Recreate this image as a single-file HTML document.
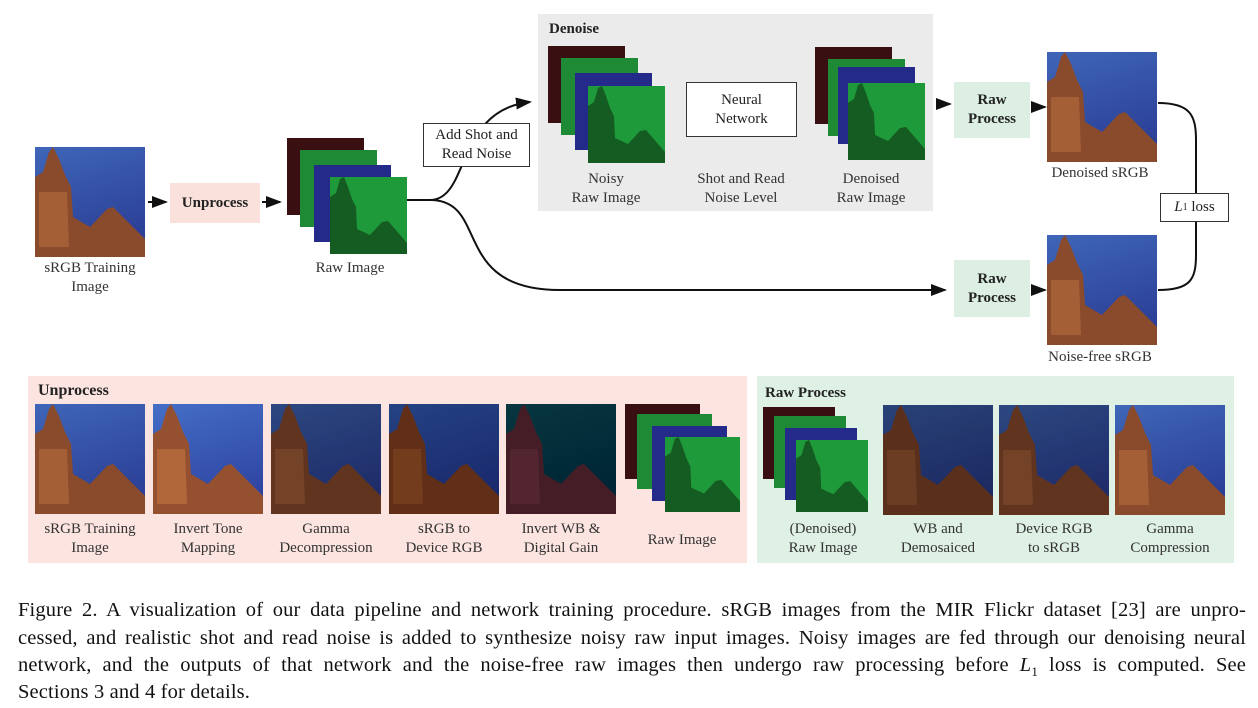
<!DOCTYPE html>
<html><head><meta charset="utf-8"><style>
body{margin:0;width:1258px;height:708px;background:#fff;position:relative;overflow:hidden;font-family:"Liberation Serif",serif;color:#222}
.a{position:absolute}
.lbl{position:absolute;text-align:center;font-size:15px;line-height:19px;color:#333}
.box{position:absolute;display:flex;align-items:center;justify-content:center;text-align:center;font-size:15px;line-height:19px}
.pic{position:absolute;width:110px;height:110px}
.fr{position:absolute;width:77px;height:77px}
.cl{position:absolute;left:18px;width:1228px;font-size:20.5px;letter-spacing:0.15px;line-height:24px;text-align:justify;text-align-last:justify;color:#111;white-space:nowrap}
</style></head><body>
<svg width="0" height="0" style="position:absolute"><defs>
<linearGradient id="sky" x1="0" y1="0" x2="0.3" y2="1"><stop offset="0" stop-color="#3f66b8"/><stop offset="1" stop-color="#2b3f96"/></linearGradient>
<symbol id="pic" viewBox="0 0 110 110"><rect width="110" height="110" fill="url(#sky)"/>
<polygon points="0,110 0,30 8,25 14,5 18,0 24,12 30,28 36,40 38,70 55,80 72,62 78,60 110,92 110,110" fill="#8a4a2c"/>
<polygon points="4,45 32,45 34,100 4,100" fill="#b0683c" opacity=".7"/></symbol>
<symbol id="gfr" viewBox="0 0 77 77"><rect width="77" height="77" fill="#1f9a3a"/><polygon points="0,77 0,20 6,16 10,2 14,0 18,10 22,22 26,30 27,52 40,58 52,45 58,44 77,66 77,77" fill="#145c22"/></symbol>
</defs></svg>

<svg class="pic" style="left:35px;top:147px"><use href="#pic"/></svg>
<div class="lbl" style="left:20px;top:259px;width:140px">sRGB Training<br>Image</div>

<svg class="a" style="left:0;top:0" width="1258" height="708">
<defs><marker id="ar" markerWidth="8" markerHeight="8" refX="7" refY="4" orient="auto"><path d="M0,1 L8,4 L0,7 Z" fill="#111"/></marker></defs>
<g stroke="#111" stroke-width="2" fill="none">
<line x1="148" y1="202" x2="166" y2="202" marker-end="url(#ar)"/>
<line x1="262" y1="202" x2="280" y2="202" marker-end="url(#ar)"/>
<path d="M407,200 L430,200 C470,200 455,110 530,102" marker-end="url(#ar)"/>
<path d="M430,200 C490,200 450,290 560,290 L945,290" marker-end="url(#ar)"/>
<line x1="668" y1="108" x2="682" y2="108" marker-end="url(#ar)"/>
<line x1="800" y1="108" x2="813" y2="108" marker-end="url(#ar)"/>
<line x1="741" y1="166" x2="741" y2="142" marker-end="url(#ar)"/>
<line x1="938" y1="104" x2="950" y2="104" marker-end="url(#ar)"/>
<line x1="1033" y1="107" x2="1045" y2="107" marker-end="url(#ar)"/>
<line x1="1033" y1="290" x2="1045" y2="290" marker-end="url(#ar)"/>
<path d="M1158,103 C1190,103 1196,115 1196,140 L1196,255 C1196,280 1190,290 1158,290"/>
</g></svg>

<div class="box" style="left:170px;top:183px;width:90px;height:40px;background:#fbe1dc;font-weight:bold">Unprocess</div>

<div class="a" style="left:287px;top:138px">
<div class="fr" style="left:0;top:0;background:#3a0f12"></div>
<div class="fr" style="left:13px;top:12px;background:#1f8a35"></div>
<div class="fr" style="left:27px;top:27px;background:#232a8a"></div>
<svg class="fr" style="left:43px;top:39px"><use href="#gfr"/></svg></div>
<div class="lbl" style="left:290px;top:259px;width:120px">Raw Image</div>

<div class="box" style="left:423px;top:123px;width:105px;height:42px;border:1px solid #333;background:#fff">Add Shot and<br>Read Noise</div>

<div class="a" style="left:538px;top:14px;width:395px;height:197px;background:#ebebeb"></div>
<div class="a" style="left:549px;top:21px;font-size:15px;font-weight:bold">Denoise</div>
<div class="a" style="left:548px;top:46px">
<div class="fr" style="left:0;top:0;background:#3a0f12"></div>
<div class="fr" style="left:13px;top:12px;background:#1f8a35"></div>
<div class="fr" style="left:27px;top:27px;background:#232a8a"></div>
<svg class="fr" style="left:40px;top:40px"><use href="#gfr"/></svg></div>
<div class="lbl" style="left:546px;top:170px;width:120px">Noisy<br>Raw Image</div>
<div class="box" style="left:686px;top:82px;width:109px;height:53px;border:1px solid #333;background:#fff">Neural<br>Network</div>
<div class="lbl" style="left:671px;top:170px;width:140px">Shot and Read<br>Noise Level</div>
<div class="a" style="left:815px;top:47px">
<div class="fr" style="left:0;top:0;background:#3a0f12"></div>
<div class="fr" style="left:13px;top:12px;background:#1f8a35"></div>
<div class="fr" style="left:23px;top:20px;background:#232a8a"></div>
<svg class="fr" style="left:33px;top:36px"><use href="#gfr"/></svg></div>
<div class="lbl" style="left:811px;top:170px;width:120px">Denoised<br>Raw Image</div>

<div class="box" style="left:954px;top:82px;width:76px;height:56px;background:#dcefe2;font-weight:bold">Raw<br>Process</div>
<svg class="pic" style="left:1047px;top:52px"><use href="#pic"/></svg>
<div class="lbl" style="left:1030px;top:164px;width:140px">Denoised sRGB</div>
<div class="box" style="left:1160px;top:193px;width:67px;height:27px;border:1px solid #333;background:#fff"><i>L</i><sub style="font-size:10px">1</sub>&nbsp;loss</div>
<div class="box" style="left:954px;top:260px;width:76px;height:57px;background:#dcefe2;font-weight:bold">Raw<br>Process</div>
<svg class="pic" style="left:1047px;top:235px"><use href="#pic"/></svg>
<div class="lbl" style="left:1030px;top:348px;width:140px">Noise-free sRGB</div>

<div class="a" style="left:28px;top:376px;width:719px;height:187px;background:#fce4e0"></div>
<div class="a" style="left:38px;top:382px;font-size:16px;font-weight:bold">Unprocess</div>
<svg class="pic" style="left:35px;top:404px"><use href="#pic"/></svg>
<svg class="pic" style="left:153px;top:404px;filter:brightness(1.08)"><use href="#pic"/></svg>
<svg class="pic" style="left:271px;top:404px;filter:brightness(.7)"><use href="#pic"/></svg>
<svg class="pic" style="left:389px;top:404px;filter:brightness(.65) saturate(1.2)"><use href="#pic"/></svg>
<svg class="pic" style="left:506px;top:404px;filter:brightness(.45) hue-rotate(-40deg)"><use href="#pic"/></svg>
<div class="a" style="left:625px;top:404px">
<div class="fr" style="left:0;top:0;width:75px;height:75px;background:#3a0f12"></div>
<div class="fr" style="left:12px;top:10px;width:75px;height:75px;background:#1f8a35"></div>
<div class="fr" style="left:27px;top:22px;width:75px;height:75px;background:#232a8a"></div>
<svg class="fr" style="left:40px;top:33px;width:75px;height:75px"><use href="#gfr"/></svg></div>
<div class="lbl" style="left:20px;top:520px;width:140px">sRGB Training<br>Image</div>
<div class="lbl" style="left:138px;top:520px;width:140px">Invert Tone<br>Mapping</div>
<div class="lbl" style="left:256px;top:520px;width:140px">Gamma<br>Decompression</div>
<div class="lbl" style="left:374px;top:520px;width:140px">sRGB to<br>Device RGB</div>
<div class="lbl" style="left:491px;top:520px;width:140px">Invert WB &amp;<br>Digital Gain</div>
<div class="lbl" style="left:617px;top:531px;width:130px">Raw Image</div>

<div class="a" style="left:757px;top:376px;width:477px;height:187px;background:#dff0e5"></div>
<div class="a" style="left:765px;top:385px;font-size:15px;font-weight:bold">Raw Process</div>
<div class="a" style="left:763px;top:407px">
<div class="fr" style="left:0;top:0;width:72px;height:72px;background:#3a0f12"></div>
<div class="fr" style="left:11px;top:9px;width:72px;height:72px;background:#1f8a35"></div>
<div class="fr" style="left:22px;top:21px;width:72px;height:72px;background:#232a8a"></div>
<svg class="fr" style="left:33px;top:33px;width:72px;height:72px"><use href="#gfr"/></svg></div>
<svg class="pic" style="left:883px;top:405px;filter:brightness(.65)"><use href="#pic"/></svg>
<svg class="pic" style="left:999px;top:405px;filter:brightness(.7)"><use href="#pic"/></svg>
<svg class="pic" style="left:1115px;top:405px"><use href="#pic"/></svg>
<div class="lbl" style="left:753px;top:520px;width:140px">(Denoised)<br>Raw Image</div>
<div class="lbl" style="left:868px;top:520px;width:140px">WB and<br>Demosaiced</div>
<div class="lbl" style="left:984px;top:520px;width:140px">Device RGB<br>to sRGB</div>
<div class="lbl" style="left:1100px;top:520px;width:140px">Gamma<br>Compression</div>

<div>
<div class="cl" style="top:598px">Figure 2. A visualization of our data pipeline and network training procedure. sRGB images from the MIR Flickr dataset [23] are unpro-</div>
<div class="cl" style="top:626px">cessed, and realistic shot and read noise is added to synthesize noisy raw input images. Noisy images are fed through our denoising neural</div>
<div class="cl" style="top:653px">network, and the outputs of that network and the noise-free raw images then undergo raw processing before <i>L</i><sub style="font-size:13px">1</sub> loss is computed. See</div>
<div class="cl" style="top:680px;text-align-last:left">Sections 3 and 4 for details.</div>
</div>
</body></html>
